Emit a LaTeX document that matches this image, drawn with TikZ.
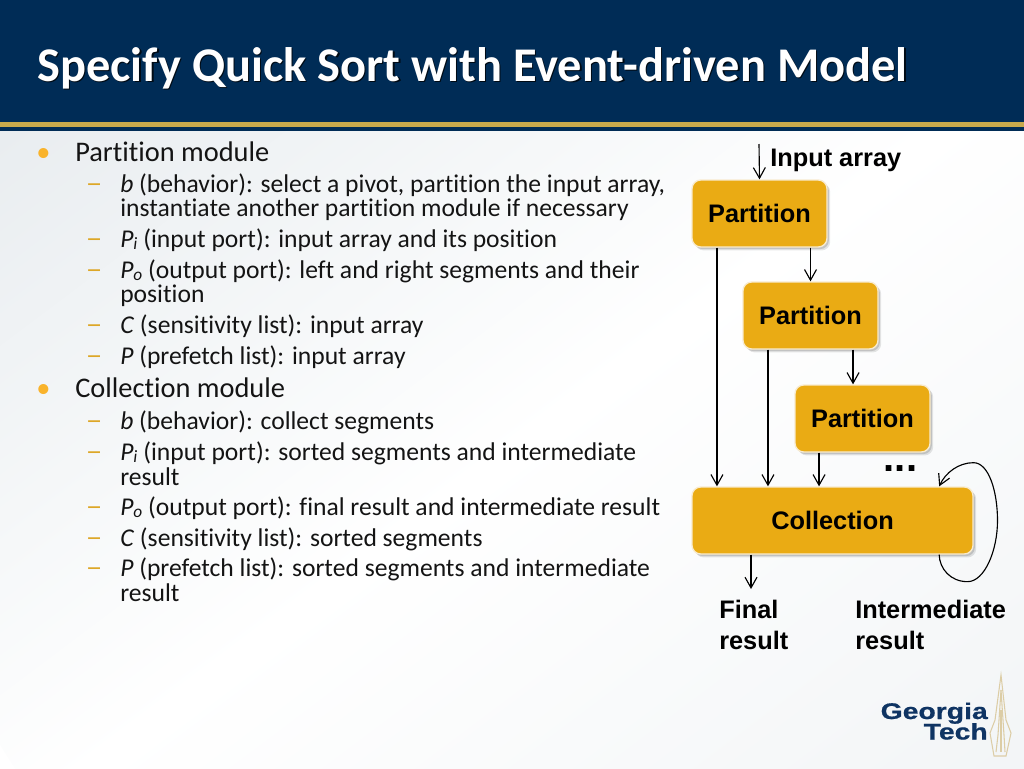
\documentclass[tikz,border=0pt]{standalone}
\usepackage{fontspec}
\setmainfont[Ligatures=NoCommon]{Carlito}
\newfontfamily\arialfont{Liberation Sans}
\newfontfamily\logofont[BoldFeatures={FakeBold=0.6}]{Liberation Sans}
\usetikzlibrary{arrows.meta,shadows,calc}
\definecolor{navy}{HTML}{002C56}
\definecolor{stripe}{HTML}{C8AA4C}
\definecolor{boxfill}{HTML}{EAAB14}
\definecolor{boxedge}{HTML}{F8EBCF}
\definecolor{bulletc}{HTML}{F9B32B}
\definecolor{dashc}{HTML}{DDA727}
\definecolor{bodytext}{HTML}{141414}
\definecolor{bgfar}{HTML}{D6DDE3}
\definecolor{bgmid}{HTML}{E9EDF0}
\definecolor{bgsoft}{HTML}{F6F8F9}
\definecolor{bgend}{HTML}{E6EBEE}
\definecolor{logonavy}{HTML}{0F3463}
\definecolor{spire}{HTML}{DCCDA6}
\pgfdeclareverticalshading{slidebg}{100bp}{color(0bp)=(bgfar);color(12bp)=(bgfar);color(30bp)=(bgmid);color(42bp)=(bgsoft);color(50bp)=(white);color(90bp)=(bgend);color(100bp)=(bgend)}
\newcommand{\lowered}[1]{\raisebox{-.7pt}{#1}}
\newcommand{\widened}[1]{\scalebox{1.25}[1]{#1}}
\newcommand{\dashglyph}{\scalebox{1.3}[1.1]{–}}
\newcommand{\lowsub}[1]{\raisebox{-1.7pt}{\fontsize{13}{13}\selectfont\textit{#1}}}
\tikzset{
 lvlone/.style={anchor=base west,inner sep=0pt,yshift=-.75pt,text=bodytext,font=\fontsize{21.3}{25}\selectfont},
 lvltwo/.style={anchor=base west,inner sep=0pt,yshift=-.75pt,text=bodytext,font=\fontsize{19.2}{22}\selectfont},
 bulletmark/.style={anchor=base west,inner sep=0pt,yshift=-.75pt,text=bulletc,font=\fontsize{21.3}{25}\selectfont},
 dashmark/.style={anchor=base west,inner sep=0pt,yshift=-.75pt,text=dashc,font=\fontsize{19.2}{22}\selectfont},
 lab/.style={anchor=base west,inner sep=0pt,text=black,font=\arialfont\bfseries\fontsize{19}{23}\selectfont},
 modbox/.style={rectangle,rounded corners=6.5pt,fill=boxfill,draw=boxedge,line width=1pt,inner sep=0pt,
   minimum height=50.25pt,text=black,font=\arialfont\bfseries\fontsize{19}{23}\selectfont,
   drop shadow={shadow xshift=2.4pt,shadow yshift=-2.6pt,fill=black,opacity=.1},
   drop shadow={shadow xshift=1.4pt,shadow yshift=-1.6pt,fill=black,opacity=.14}},
 partbox/.style={modbox,minimum width=101.25pt},
 collbox/.style={modbox,minimum width=210.75pt},
 conn/.style={draw=black,line width=.85pt,-{Straight Barb[length=8pt,width=9pt,line width=.85pt]}},
 logotext/.style={anchor=base east,inner sep=0pt,text=logonavy,font=\logofont\bfseries\fontsize{17}{20}\selectfont},
 spireline/.style={draw=spire,line width=.8pt}
}
\begin{document}
\begin{tikzpicture}[x=0.75pt,y=-0.75pt]
\useasboundingbox (0,0) rectangle (1024,768);
% background
\begin{scope}
\clip (0,0) rectangle (1024,768);
\shade[shading=slidebg,shading angle=-143.1] (600,384) circle (700);
\end{scope}
\fill[navy] (0,0) rectangle (1024,131);
\fill[stripe] (0,121.5) rectangle (1024,126.5);
% title
\node[anchor=base west,inner sep=0pt,text=black!75!navy,font=\bfseries\fontsize{36.3}{42}\selectfont] (titleshade) at (38.5,82.5) {Specify Quick Sort with Event-driven Model};
\node[anchor=base west,inner sep=0pt,text=white,font=\bfseries\fontsize{36.3}{42}\selectfont] (title) at (37,81) {Specify Quick Sort with Event-driven Model};
% body
\node[bulletmark] (b1) at (36,160) {•};
\node[lvlone] (t1) at (75,160) {Partition module};
\node[dashmark] (d1) at (85.5,191) {\dashglyph};
\node[lvltwo] (t2) at (120,191) {\textit{b} (behavior): select a pivot, partition the input array,};
\node[lvltwo] (t3) at (120,215.5) {instantiate another partition module if necessary};
\node[dashmark] (d2) at (85.5,246) {\dashglyph};
\node[lvltwo] (t4) at (120,246) {\textit{P}\lowsub{i} (input port): input array and its position};
\node[dashmark] (d3) at (85.5,277) {\dashglyph};
\node[lvltwo] (t5) at (120,277) {\textit{P}\lowsub{o} (output port): left and right segments and their};
\node[lvltwo] (t6) at (120,301.5) {position};
\node[dashmark] (d4) at (85.5,332) {\dashglyph};
\node[lvltwo] (t7) at (120,332) {\textit{C} (sensitivity list): input array};
\node[dashmark] (d5) at (85.5,363) {\dashglyph};
\node[lvltwo] (t8) at (120,363) {\textit{P} (prefetch list): input array};
\node[bulletmark] (b2) at (36,396) {•};
\node[lvlone] (t9) at (75,396) {Collection module};
\node[dashmark] (d6) at (85.5,428) {\dashglyph};
\node[lvltwo] (t10) at (120,428) {\textit{b} (behavior): collect segments};
\node[dashmark] (d7) at (85.5,459) {\dashglyph};
\node[lvltwo] (t11) at (120,459) {\textit{P}\lowsub{i} (input port): sorted segments and intermediate};
\node[lvltwo] (t12) at (120,484) {result};
\node[dashmark] (d8) at (85.5,514) {\dashglyph};
\node[lvltwo] (t13) at (120,514) {\textit{P}\lowsub{o} (output port): final result and intermediate result};
\node[dashmark] (d9) at (85.5,545) {\dashglyph};
\node[lvltwo] (t14) at (120,545) {\textit{C} (sensitivity list): sorted segments};
\node[dashmark] (d10) at (85.5,575) {\dashglyph};
\node[lvltwo] (t15) at (120,575) {\textit{P} (prefetch list): sorted segments and intermediate};
\node[lvltwo] (t16) at (120,600) {result};
% diagram boxes
\node[partbox] (p1) at (759.5,213.5) {\lowered{Partition}};
\node[partbox] (p2) at (810.5,315.5) {\lowered{Partition}};
\node[partbox] (p3) at (862.5,418.5) {\lowered{Partition}};
\node[collbox] (coll) at (832.5,520.5) {\lowered{Collection}};
% labels
\node[lab] (inlabel) at (770,166) {Input array};
\node[lab] (finalone) at (719,618) {Final};
\node[lab] (finaltwo) at (719,649) {result};
\node[lab] (interone) at (855,618) {Intermediate};
\node[lab] (intertwo) at (855,649) {result};
\node[anchor=base,inner sep=0pt,text=black,font=\arialfont\bfseries\fontsize{30}{34}\selectfont] (dots) at (900.5,471) {...};
% connectors
\coordinate (instart) at (759,144);
\coordinate (finalend) at (751,589);
\draw[conn] (instart) -- (p1.north);
\draw[conn] (p2.north |- p1.south) -- (p2.north);
\draw[conn] ([xshift=31.9pt]p2.south) -- ([xshift=31.9pt]p2.south |- p3.north);
\draw[conn] ([xshift=-31.9pt]p1.south) -- ([xshift=-31.9pt]p1.south |- coll.north);
\draw[conn] ([xshift=-31.9pt]p2.south) -- ([xshift=-31.9pt]p2.south |- coll.north);
\draw[conn] ([xshift=-32.6pt]p3.south) -- ([xshift=-32.6pt]p3.south |- coll.north);
\draw[conn] (coll.south -| finalend) -- (finalend);
\draw[conn] ([xshift=80pt]coll.south) .. controls ($(coll.south)+(107,14)$) and ($(coll.south)+(118,27)$) .. ($(coll.south)+(135,27)$)
 .. controls ($(coll.south)+(152,27)$) and ($(coll.south)+(165,-4)$) .. ($(coll.south)+(165,-34)$)
 .. controls ($(coll.south)+(165,-64)$) and ($(coll.south)+(156,-92)$) .. ($(coll.south)+(141,-92)$)
 .. controls ($(coll.south)+(126,-92)$) and ($(coll.south)+(113,-82)$) .. ([xshift=80pt]coll.north);
% logo
\node[logotext] (logoa) at (988,719) {\widened{Georgia}};
\node[logotext] (logob) at (988,739.5) {\widened{Tech}};
\draw[spireline] (1001,675) -- (995,720) -- (990,733) -- (994,756) -- (1006,756) -- (1011,733) -- (1006,720) -- cycle;
\draw[spireline] (1001,690) -- (998,735) -- (996,752);
\draw[spireline] (1001,690) -- (1004,735) -- (1005,752);
\draw[spireline] (1001,710) -- (1001,752);
\end{tikzpicture}
\end{document}
